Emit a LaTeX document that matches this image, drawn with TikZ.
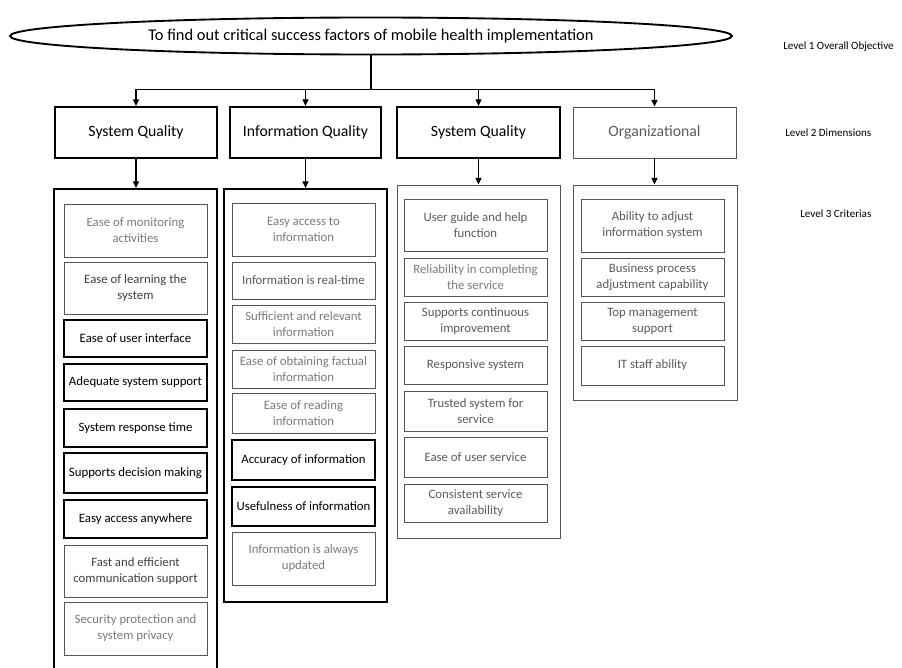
\documentclass[tikz,border=0pt]{standalone}
\usepackage{fontspec}
\setmainfont{Carlito}
\usetikzlibrary{shapes.geometric,arrows.meta}
\definecolor{lineg}{HTML}{555555}
\definecolor{txtd}{HTML}{404040}
\definecolor{txtm}{HTML}{5A5A5A}
\definecolor{txtl}{HTML}{7A7A7A}
\tikzset{
  bw/.style={minimum width=#1*0.75pt},
  bh/.style={minimum height=#1*0.75pt},
  thinbox/.style={draw=lineg, line width=0.6pt, rectangle, inner sep=1pt, align=center, font=\fontsize{9.6}{12}\selectfont, bw=143},
  thickbox/.style={draw=black, line width=1.4pt, rectangle, inner sep=1pt, align=center, font=\fontsize{9.6}{12}\selectfont, bw=143, text=black},
  hdrthick/.style={draw=black, line width=1.6pt, rectangle, inner sep=0pt, font=\fontsize{11.8}{14}\selectfont, bh=51},
  hdrthin/.style={draw=lineg, line width=0.7pt, rectangle, inner sep=0pt, font=\fontsize{11.8}{14}\selectfont, bh=51, text=txtm},
  contthick/.style={draw=black, line width=1.5pt, rectangle, inner sep=0pt},
  contthin/.style={draw=lineg, line width=0.7pt, rectangle, inner sep=0pt},
  lvl/.style={font=\fontsize{8.3}{10}\selectfont, anchor=west, inner sep=0pt},
  arr/.style={-{Triangle[length=5pt,width=4.5pt]}},
}
\begin{document}
\begin{tikzpicture}[x=0.75pt,y=-0.75pt]
\useasboundingbox (0,0) rectangle (902,667);
\clip (0,0) rectangle (902,667);

% Level 1
\node[ellipse, draw=black, line width=1.4pt, inner sep=0pt, bw=722, bh=37, font=\fontsize{12.3}{14}\selectfont] (E) at (371,36) {To find out critical success factors of mobile health implementation};

% Level labels
\node[lvl] (L1) at (783,47) {Level 1 Overall Objective};
\node[lvl] (L2) at (785,133) {Level 2 Dimensions};
\node[lvl] (L3) at (800,214) {Level 3 Criterias};

% Level 2 headers
\node[hdrthick, bw=162] (H1) at (136,132.5) {System Quality};
\node[hdrthick, bw=151] (H2) at (305.5,132.5) {Information Quality};
\node[hdrthick, bw=163] (H3) at (478.5,132.5) {System Quality};
\node[hdrthin, bw=163] (H4) at (654.5,132.5) {Organizational};

% Top connectors
\draw[line width=1.4pt] (E.south) -- ++(0,34) coordinate (J);
\draw[line width=1.4pt] (H1.north |- J) -- (H4.north |- J);
\draw[line width=1.2pt, arr] (H1.north |- J) -- (H1.north);
\draw[line width=0.6pt, arr] (H2.north |- J) -- (H2.north);
\draw[line width=1.0pt, arr] (H3.north |- J) -- (H3.north);
\draw[line width=1.2pt, arr] (H4.north |- J) -- (H4.north);

% Level 3 containers
\node[contthick, bw=163, bh=501] (C1) at (135.5,439.5) {};
\node[contthick, bw=163, bh=413] (C2) at (305.5,395.5) {};
\node[contthin, bw=163, bh=353] (C3) at (478.5,361.5) {};
\node[contthin, bw=164, bh=215] (C4) at (655,292.5) {};

% Header to container connectors
\draw[line width=1.4pt, arr] (H1.south) -- (H1.south |- C1.north);
\draw[line width=1.4pt, arr] (H2.south) -- (H2.south |- C2.north);
\draw[line width=0.8pt, arr] (H3.south) -- (H3.south |- C3.north);
\draw[line width=0.8pt, arr] (H4.south) -- (H4.south |- C4.north);

% Column 1
\node[thinbox, bh=53, text=txtl] (a1) at (135.5,230.5) {Ease of monitoring\\activities};
\node[thinbox, bh=52, text=txtd] (a2) at (135.5,288) {Ease of learning the\\system};
\node[thickbox, bh=37] (a3) at (135.5,338.5) {Ease of user interface};
\node[thickbox, bh=37] (a4) at (135.5,382.5) {Adequate system support};
\node[thickbox, bh=38] (a5) at (135.5,428) {System response time};
\node[thickbox, bh=40] (a6) at (135.5,473) {Supports decision making};
\node[thickbox, bh=38] (a7) at (135.5,519) {Easy access anywhere};
\node[thinbox, bh=52, text=txtd] (a8) at (135.5,571) {Fast and efficient\\communication support};
\node[thinbox, bh=53, text=txtl] (a9) at (135.5,628.5) {Security protection and\\system privacy};

% Column 2
\node[thinbox, bh=53, text=txtl] (b1) at (303.5,229.5) {Easy access to\\information};
\node[thinbox, bh=37, text=txtm] (b2) at (303.5,280.5) {Information is real-time};
\node[thinbox, bh=38, text=txtl] (b3) at (303.5,324) {Sufficient and relevant\\information};
\node[thinbox, bh=38, text=txtl] (b4) at (303.5,369) {Ease of obtaining factual\\information};
\node[thinbox, bh=40, text=txtl] (b5) at (303.5,413) {Ease of reading\\information};
\node[thickbox, bh=40] (b6) at (303.5,460) {Accuracy of information};
\node[thickbox, bh=39] (b7) at (303.5,506.5) {Usefulness of information};
\node[thinbox, bh=53, text=txtl] (b8) at (303.5,558.5) {Information is always\\updated};

% Column 3
\node[thinbox, bh=52, text=txtm] (c1) at (475.5,225) {User guide and help\\function};
\node[thinbox, bh=38, text=txtl] (c2) at (475.5,277) {Reliability in completing\\the service};
\node[thinbox, bh=38, text=txtm] (c3) at (475.5,321) {Supports continuous\\improvement};
\node[thinbox, bh=38, text=txtm] (c4) at (475.5,365) {Responsive system};
\node[thinbox, bh=40, text=txtm] (c5) at (475.5,411) {Trusted system for\\service};
\node[thinbox, bh=40, text=txtm] (c6) at (475.5,457) {Ease of user service};
\node[thinbox, bh=38, text=txtm] (c7) at (475.5,503) {Consistent service\\availability};

% Column 4
\node[thinbox, bh=53, text=txtm] (d1) at (652.5,225.5) {Ability to adjust\\information system};
\node[thinbox, bh=38, text=txtm] (d2) at (652.5,277) {Business process\\adjustment capability};
\node[thinbox, bh=38, text=txtm] (d3) at (652.5,321) {Top management\\support};
\node[thinbox, bh=39, text=txtm] (d4) at (652.5,365.5) {IT staff ability};
\end{tikzpicture}
\end{document}
